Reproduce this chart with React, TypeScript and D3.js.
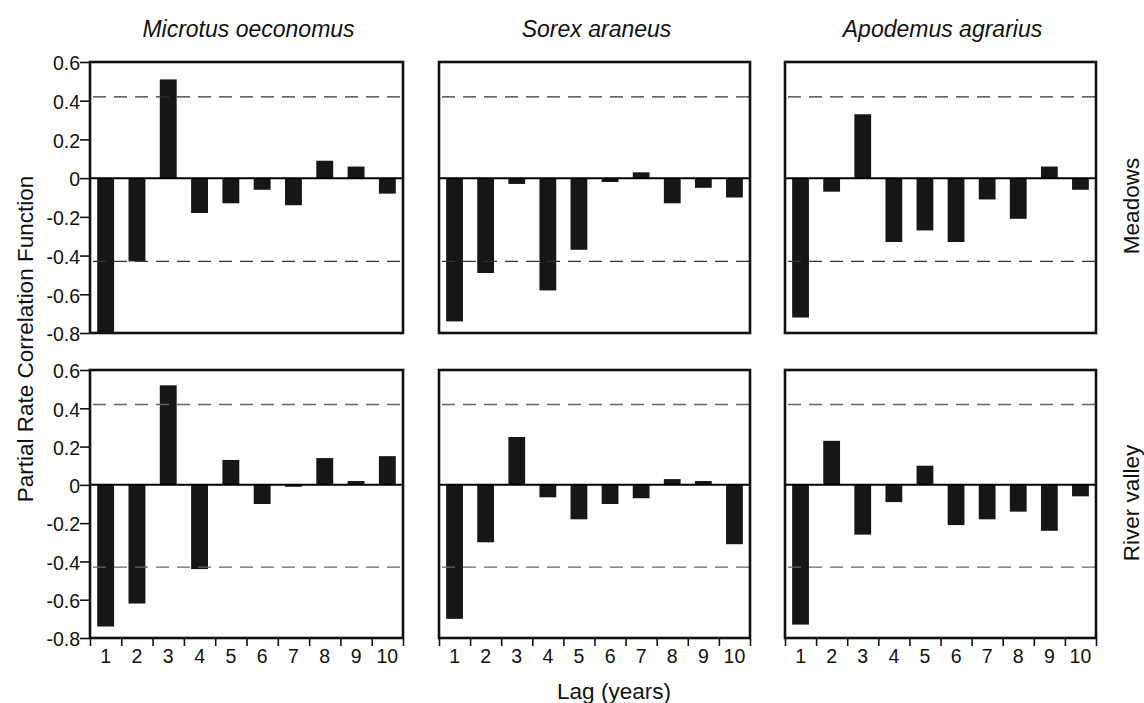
import React, { useEffect, useRef } from 'react'
import * as d3 from 'd3'

// lags on the x axis
const lags = ['1', '2', '3', '4', '5', '6', '7', '8', '9', '10']
const species = ['Microtus oeconomus', 'Sorex araneus', 'Apodemus agrarius']
const habitats = ['Meadows', 'River valley']
const yTicks = [0.6, 0.4, 0.2, 0, -0.2, -0.4, -0.6, -0.8]

// partial rate correlation values
const microtusMeadows = [-0.8, -0.43, 0.51, -0.18, -0.13, -0.06, -0.14, 0.09, 0.06, -0.08]
const sorexMeadows = [-0.74, -0.49, -0.03, -0.58, -0.37, -0.02, 0.03, -0.13, -0.05, -0.1]
const apodemusMeadows = [-0.72, -0.07, 0.33, -0.33, -0.27, -0.33, -0.11, -0.21, 0.06, -0.06]
const microtusRiver = [-0.74, -0.62, 0.52, -0.44, 0.13, -0.1, -0.01, 0.14, 0.02, 0.15]
const sorexRiver = [-0.7, -0.3, 0.25, -0.065, -0.18, -0.1, -0.07, 0.03, 0.02, -0.31]
const apodemusRiver = [-0.73, 0.23, -0.26, -0.09, 0.1, -0.21, -0.18, -0.14, -0.24, -0.06]

// confidence limits (dashed lines)
const limits = [0.42, -0.43]

const font = '"Liberation Sans", Arial, Helvetica, sans-serif'

export default function App() {
  const svgRef = useRef<SVGSVGElement>(null)
  const width = 1144
  const height = 703

  useEffect(() => {
    const svg = d3.select(svgRef.current)
    svg.selectAll('*').remove()

    const cols = [[90, 403], [439, 750], [785, 1096]]
    const rows = [[62, 333], [370, 638]]
    const grid = [
      [microtusMeadows, sorexMeadows, apodemusMeadows],
      [microtusRiver, sorexRiver, apodemusRiver],
    ]

    rows.forEach((r, ri) => {
      const y = d3.scaleLinear().domain([-0.8, 0.6]).range([r[1], r[0]])
      cols.forEach((c, ci) => {
        const x = d3.scaleBand().domain(lags).range([c[0], c[1]]).paddingInner(0.46).paddingOuter(0.23)
        const values = grid[ri][ci]
        const g = svg.append('g')

        // bars
        g.selectAll('rect.bar')
          .data(values)
          .enter()
          .append('rect')
          .attr('class', 'bar')
          .attr('x', (d, i) => x(lags[i]))
          .attr('width', x.bandwidth())
          .attr('y', d => y(Math.max(0, d)))
          .attr('height', d => Math.abs(y(d) - y(0)))
          .attr('fill', '#161616')

        // dashed limits
        g.selectAll('line.limit')
          .data(limits)
          .enter()
          .append('line')
          .attr('x1', c[0])
          .attr('x2', c[1])
          .attr('y1', d => y(d))
          .attr('y2', d => y(d))
          .attr('stroke', ri === 0 ? '#333' : '#666')
          .attr('stroke-width', 1.4)
          .attr('stroke-dasharray', '13,8')
          .attr('stroke-dashoffset', -3)

        // zero line
        g.append('line')
          .attr('x1', c[0]).attr('x2', c[1])
          .attr('y1', y(0)).attr('y2', y(0))
          .attr('stroke', '#000').attr('stroke-width', 2)

        // frame
        g.append('rect')
          .attr('x', c[0]).attr('y', r[0])
          .attr('width', c[1] - c[0]).attr('height', r[1] - r[0])
          .attr('fill', 'none').attr('stroke', '#111').attr('stroke-width', 2.6)

        if (ci === 0) {
          const ax = g.append('g')
            .attr('transform', `translate(${c[0] - 1},0)`)
            .call(d3.axisLeft(y).tickValues(yTicks).tickSize(9).tickPadding(0).tickFormat(d => String(d)))
          ax.select('.domain').remove()
          ax.selectAll('line').attr('stroke-width', 1.6).attr('stroke', '#111')
          ax.selectAll('text')
            .attr('font-family', font).attr('font-size', 19.5).attr('fill', '#111')
            .attr('dy', '0.4em')
        }

        if (ri === 1) {
          const edges = d3.scaleLinear().domain([0, 10]).range([c[0], c[1]])
          const tk = g.append('g')
            .attr('transform', `translate(0,${r[1] + 1})`)
            .call(d3.axisBottom(edges).tickValues(d3.range(0, 11)).tickSize(7).tickFormat(() => ''))
          tk.select('.domain').remove()
          tk.selectAll('line').attr('stroke-width', 1.6).attr('stroke', '#111')

          const lb = g.append('g')
            .attr('transform', `translate(0,${r[1]})`)
            .call(d3.axisBottom(x).tickSize(0).tickPadding(11))
          lb.select('.domain').remove()
          lb.selectAll('text')
            .attr('font-family', font).attr('font-size', 19.5).attr('fill', '#111')
        }
      })
    })

    // species titles
    svg.selectAll('text.title')
      .data(species)
      .enter()
      .append('text')
      .attr('class', 'title')
      .attr('x', (d, i) => (cols[i][0] + cols[i][1]) / 2 + 2)
      .attr('y', 36.5)
      .attr('text-anchor', 'middle')
      .attr('font-family', font)
      .attr('font-style', 'italic')
      .attr('font-size', 23)
      .attr('fill', '#111')
      .text(d => d)

    // habitat labels on the right
    const habY = [206, 503]
    svg.selectAll('text.hab')
      .data(habitats)
      .enter()
      .append('text')
      .attr('class', 'hab')
      .attr('transform', (d, i) => `translate(1139,${habY[i]}) rotate(-90)`)
      .attr('text-anchor', 'middle')
      .attr('font-family', font)
      .attr('font-size', 22.5)
      .attr('fill', '#111')
      .text(d => d)

    svg.append('text')
      .attr('transform', 'translate(33,339) rotate(-90)')
      .attr('text-anchor', 'middle')
      .attr('font-family', font)
      .attr('font-size', 22.5)
      .attr('fill', '#111')
      .text('Partial Rate Correlation Function')

    svg.append('text')
      .attr('x', 614)
      .attr('y', 699)
      .attr('text-anchor', 'middle')
      .attr('font-family', font)
      .attr('font-size', 22.5)
      .attr('fill', '#111')
      .text('Lag (years)')
  }, [])

  return (
    <div>
      <svg
        ref={svgRef}
        width={width}
        height={height}
        style={{ position: 'absolute', left: 0, top: 0, background: '#fff' }}
      ></svg>
    </div>
  )
}
